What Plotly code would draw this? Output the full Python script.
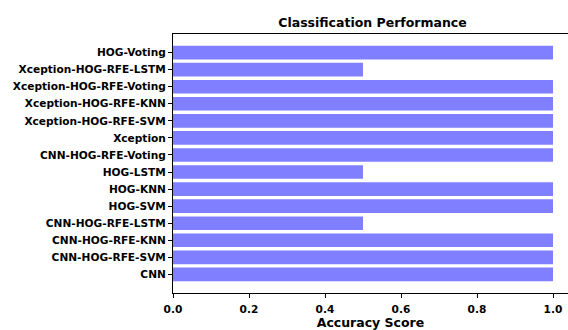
import plotly.graph_objects as go

models = [
    "CNN", "CNN-HOG-RFE-SVM", "CNN-HOG-RFE-KNN", "CNN-HOG-RFE-LSTM",
    "HOG-SVM", "HOG-KNN", "HOG-LSTM", "CNN-HOG-RFE-Voting", "Xception",
    "Xception-HOG-RFE-SVM", "Xception-HOG-RFE-KNN", "Xception-HOG-RFE-Voting",
    "Xception-HOG-RFE-LSTM", "HOG-Voting",
]
accuracy = [1.0, 1.0, 1.0, 0.5, 1.0, 1.0, 0.5, 1.0, 1.0, 1.0, 1.0, 1.0, 0.5, 1.0]
x_ticks = [0.0, 0.2, 0.4, 0.6, 0.8, 1.0]

font = dict(family="DejaVu Sans", size=10.6, color="black", weight="bold")

fig = go.Figure(go.Bar(
    x=accuracy, y=list(range(len(models))), orientation="h",
    marker=dict(color="rgba(0,0,255,0.5)", line=dict(width=0)),
    width=0.8,
))

fig.update_layout(
    width=568, height=330,
    margin=dict(l=173, r=0, t=34, b=37),
    plot_bgcolor="white", paper_bgcolor="white",
    font=font,
    showlegend=False,
    title=dict(text="Classification Performance", x=(173 + 572) / 2 / 568,
               xanchor="center", y=1 - 23 / 330, yanchor="middle",
               font=dict(family="DejaVu Sans", size=12.5, color="black", weight="bold")),
)
fig.update_xaxes(
    range=[0, 395 / 380], tickvals=x_ticks, tickformat=".1f",
    showgrid=False, zeroline=False,
    showline=True, linecolor="black", linewidth=1, mirror=True,
    ticks="outside", ticklen=4, tickcolor="black", ticklabelstandoff=2,
    title=dict(text="Accuracy Score", standoff=2,
               font=dict(family="DejaVu Sans", size=12.5, color="black", weight="bold")),
)
fig.update_yaxes(
    range=[-1.09, len(models) - 1 + 1.09],
    tickvals=list(range(len(models))), ticktext=models,
    showgrid=False, zeroline=False,
    showline=True, linecolor="black", linewidth=1,
    ticks="outside", ticklen=4, tickcolor="black",
)

fig.write_html("out.html")
